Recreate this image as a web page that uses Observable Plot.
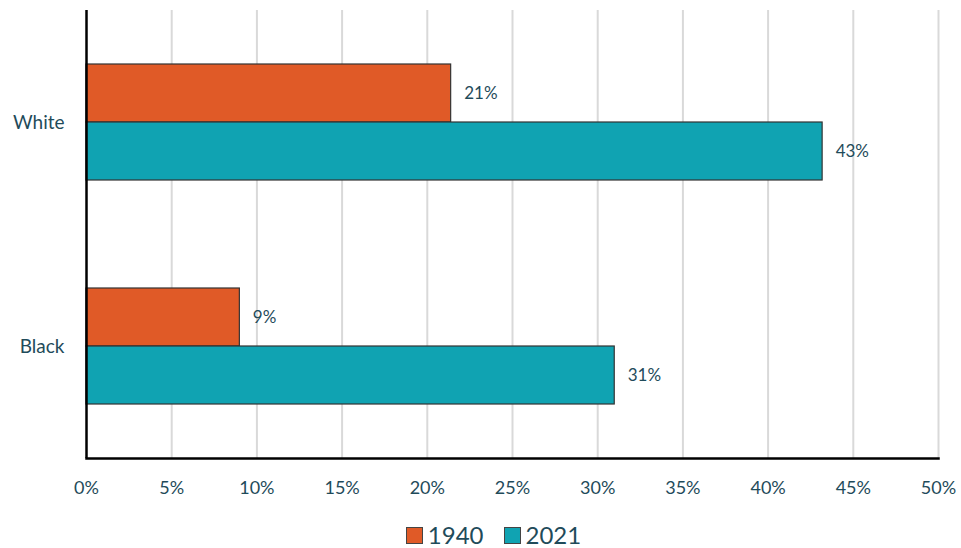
<!DOCTYPE html>
<html>
<head>
<meta charset="utf-8">
<script src="https://cdn.jsdelivr.net/npm/d3@7"></script>
<script src="https://cdn.jsdelivr.net/npm/@observablehq/plot@0.6"></script>
<style>
  html, body { margin: 0; background: #fff; font-family: Lato, "Open Sans", sans-serif; overflow: hidden; }
  #chart svg { display: block; }
  .legend { display: flex; justify-content: center; align-items: center; height: 26px; margin-top: 10px; padding-left: 26px; font-family: Lato, sans-serif; font-size: 24px; line-height: 26px; color: #1f4b5a; }
  .legend .item { display: flex; align-items: center; margin: 0 10px; }
  .legend .sw { width: 15px; height: 15px; border: 1px solid #444; margin-right: 5px; }
</style>
</head>
<body>
<div id="chart"></div>
<script>
const races = ["White", "Black"];
const years = ["1940", "2021"];
const share1940 = [21.4, 9.0];
const share2021 = [43.2, 31.0];
const xTicks = [0, 5, 10, 15, 20, 25, 30, 35, 40, 45, 50];
const gridTicks = [5, 10, 15, 20, 25, 30, 35, 40, 45, 50];
const colors = ["#E05A27", "#10A3B2"];

const rows = [];
races.forEach((r, i) => {
  rows.push({race: r, year: years[0], value: share1940[i]});
  rows.push({race: r, year: years[1], value: share2021[i]});
});

const textColor = "#1f4b5a";

const plot = Plot.plot({
  width: 961,
  height: 512,
  marginLeft: 86,
  marginRight: 23,
  marginTop: 10,
  marginBottom: 54,
  style: {fontFamily: "Lato, sans-serif", color: textColor, background: "#fff"},
  x: {domain: [0, 50], ticks: xTicks, tickFormat: d => d + "%", label: null},
  y: {domain: years, paddingInner: 0, paddingOuter: 0.9, axis: null},
  fy: {domain: races, padding: 0, label: null},
  color: {domain: years, range: colors},
  marks: [
    Plot.ruleX(gridTicks, {stroke: "#d9d9d9", strokeWidth: 2, strokeOpacity: 1}),
    Plot.barX(rows, {x: "value", y: "year", fy: "race", fill: "year", stroke: "#333", strokeWidth: 1.2}),
    Plot.text(rows, {x: "value", y: "year", fy: "race", text: d => Math.round(d.value) + "%", textAnchor: "start", dx: 13, fontSize: 17, fill: textColor}),
    Plot.ruleX([0], {stroke: "#000", strokeWidth: 2.5}),
    Plot.frame({anchor: "bottom", facetAnchor: "bottom", stroke: "#000", strokeWidth: 2.5}),
    Plot.axisFy({anchor: "left", tickSize: 0, tickPadding: 22, fontSize: 19, label: null, color: textColor}),
    Plot.axisX({ticks: xTicks, tickFormat: d => d + "%", tickSize: 0, tickPadding: 23, fontSize: 18, label: null, color: textColor})
  ]
});

document.getElementById("chart").appendChild(plot);

const legend = document.createElement("div");
legend.className = "legend";
years.forEach((y, i) => {
  const it = document.createElement("div");
  it.className = "item";
  const sw = document.createElement("span");
  sw.className = "sw";
  sw.style.background = colors[i];
  const t = document.createElement("span");
  t.textContent = y;
  it.appendChild(sw);
  it.appendChild(t);
  legend.appendChild(it);
});
document.body.appendChild(legend);
</script>
</body>
</html>
